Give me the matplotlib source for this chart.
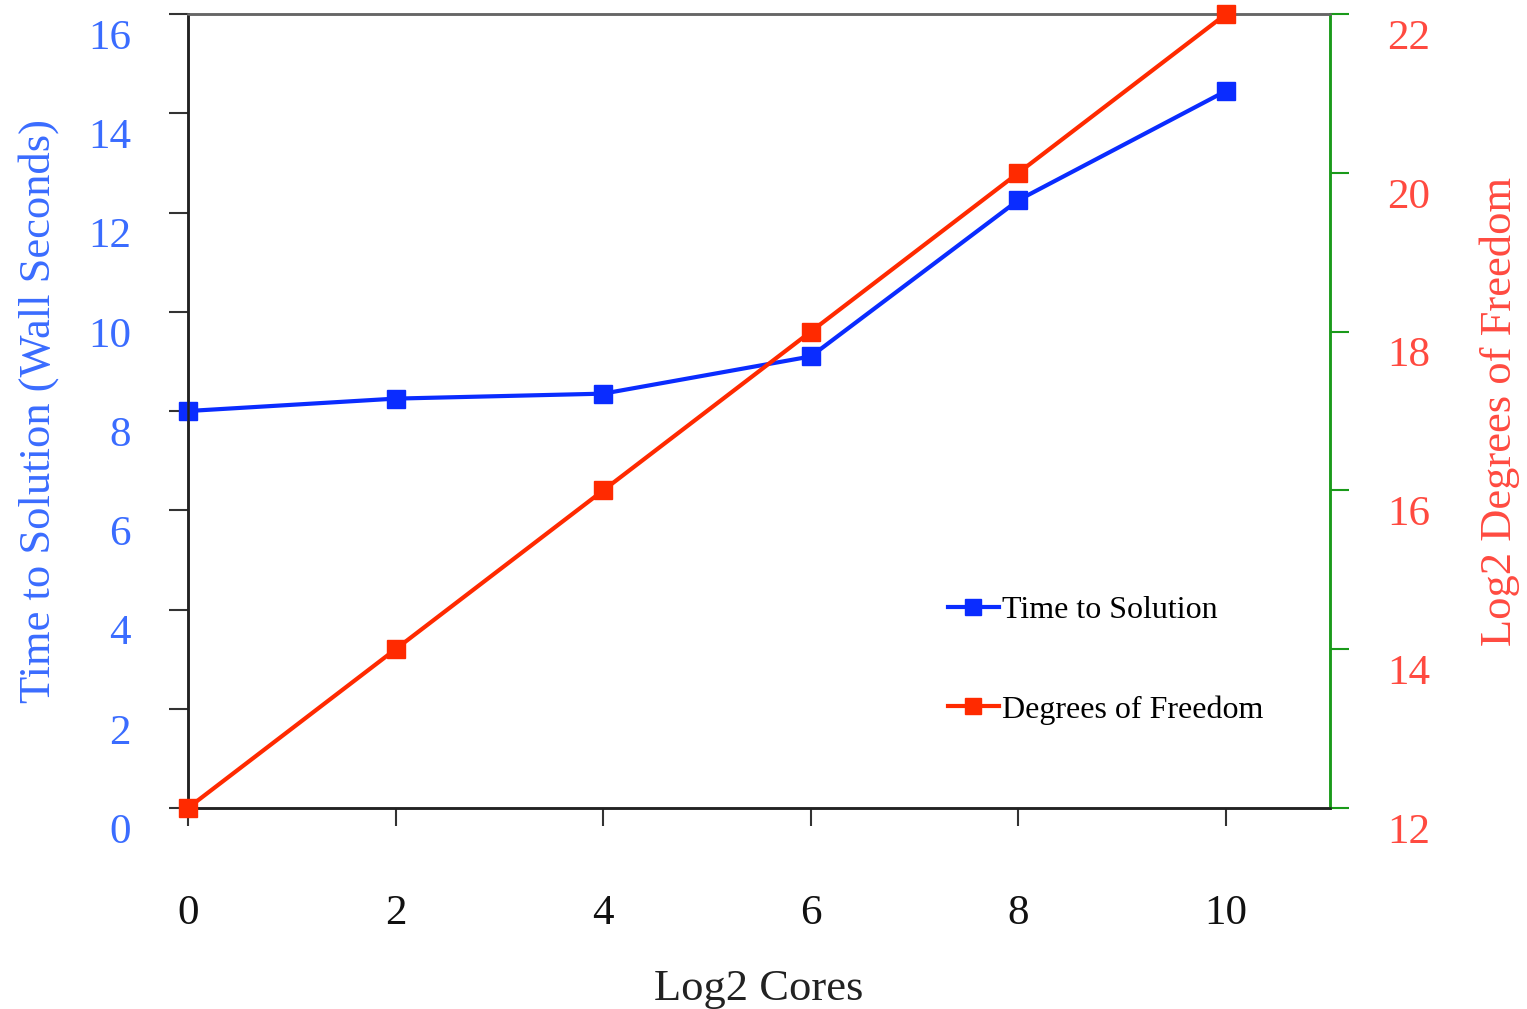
import matplotlib.pyplot as plt
import matplotlib.transforms as mtransforms

# data
log2_cores = [0, 2, 4, 6, 8, 10]
time_to_solution = [8.0, 8.25, 8.35, 9.1, 12.25, 14.45]
log2_dof = [12, 14, 16, 18, 20, 22]

plt.rcParams['font.family'] = ['Liberation Serif', 'DejaVu Serif']

blue = '#0a2cff'
red = '#ff2a00'
blue_txt = '#3a6cff'
red_txt = '#ff4a40'
green = '#1a9a1a'

fig = plt.figure(figsize=(15.27, 10.09), dpi=100)
ax = fig.add_axes([0.1231, 0.1992, 0.8709 - 0.1231, 0.9861 - 0.1992])
ax2 = ax.twinx()

l1, = ax.plot(log2_cores, time_to_solution, color=blue, lw=3, marker='s',
              markersize=13, label='Time to Solution', clip_on=False, zorder=3)
l2, = ax2.plot(log2_cores, log2_dof, color=red, lw=3, marker='s',
               markersize=13, label='Degrees of Freedom', clip_on=False, zorder=3)

ax.set_xlim(0, 11)
ax.set_ylim(0, 16)
ax2.set_ylim(12, 22)
ax.set_xticks(log2_cores)
ax.set_yticks(range(0, 17, 2))
ax2.set_yticks(range(12, 23, 2))

ax.tick_params(axis='x', direction='out', length=13, width=1.5, color='#333333',
               pad=49, labelsize=31, labelcolor='#111111')
ax.tick_params(axis='y', direction='out', length=14, width=1.5, color='#333333',
               pad=27, labelsize=31, labelcolor=blue_txt)
ax2.tick_params(axis='y', direction='out', length=14, width=1.5, color=green,
                pad=27, labelsize=31, labelcolor=red_txt)

# tick labels sit a bit below their ticks in the original
shift = mtransforms.ScaledTranslation(0, -20 / 100, fig.dpi_scale_trans)
for lab in ax.get_yticklabels() + ax2.get_yticklabels():
    lab.set_transform(lab.get_transform() + shift)

for a in (ax, ax2):
    a.spines['left'].set_color('#222222')
    a.spines['bottom'].set_color('#222222')
    a.spines['top'].set_color('#666666')
    a.spines['right'].set_color(green)
    for s in a.spines.values():
        s.set_linewidth(1.8)

ax.set_xlabel('Log2 Cores', fontsize=32, color='#222222', labelpad=26)
ax.set_ylabel('Time to Solution (Wall Seconds)', fontsize=32, color=blue_txt, labelpad=21)
ax2.set_ylabel('Log2 Degrees of Freedom', fontsize=32, color=red_txt, labelpad=36)

ax2.legend(handles=[l1, l2], loc='upper left', bbox_to_anchor=(0.64, 0.304),
           frameon=False, fontsize=23, handlelength=1.6, handletextpad=0.1,
           labelspacing=2.2, markerscale=0.85)

fig.savefig('out.png', dpi=100)
